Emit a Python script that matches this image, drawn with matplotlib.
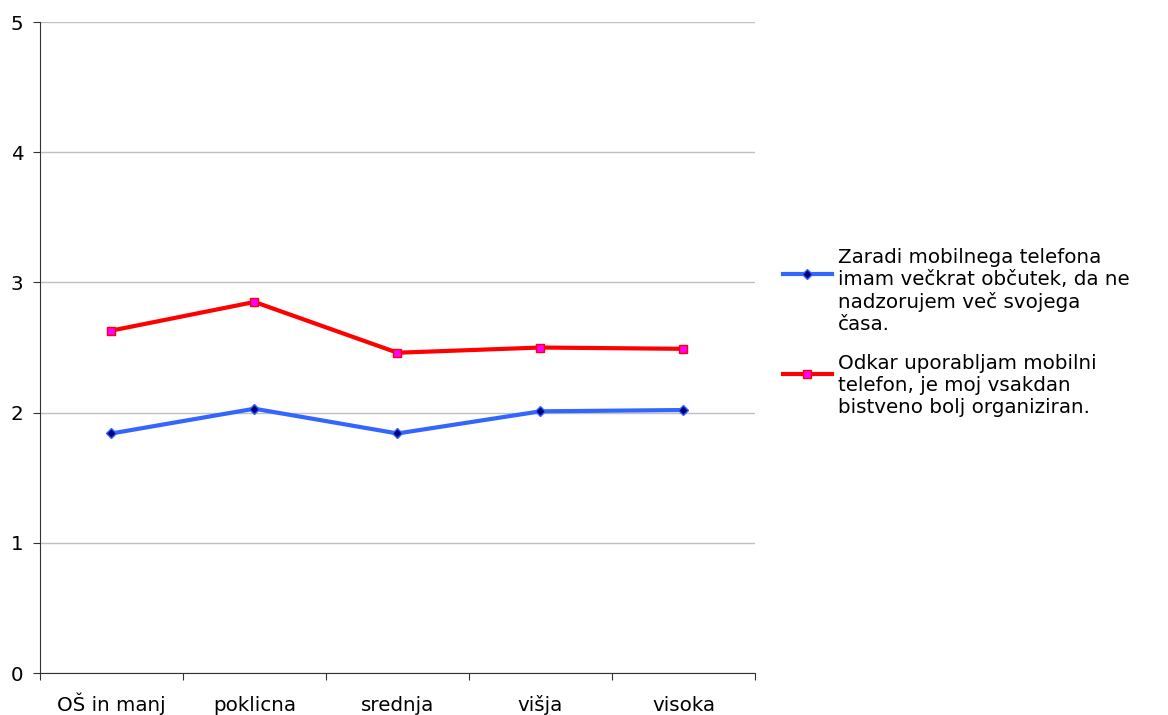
import matplotlib.pyplot as plt
from matplotlib.legend_handler import HandlerLine2D
import numpy as np

categories = ['OŠ in manj', 'poklicna', 'srednja', 'višja', 'visoka']
series_blue = [1.84, 2.03, 1.84, 2.01, 2.02]
series_red = [2.63, 2.85, 2.46, 2.50, 2.49]
label_blue = 'Zaradi mobilnega telefona\nimam večkrat občutek, da ne\nnadzorujem več svojega\nčasa.'
label_red = 'Odkar uporabljam mobilni\ntelefon, je moj vsakdan\nbistveno bolj organiziran.'

plt.rcParams['font.family'] = ['DejaVu Sans']
FS = 14.3


class FirstLineHandler(HandlerLine2D):
    # put the legend key next to the first text line, not the middle
    def __init__(self, n_lines, **kw):
        super().__init__(**kw)
        self.n_lines = n_lines

    def create_artists(self, legend, orig_handle, xdescent, ydescent,
                       width, height, fontsize, trans):
        shift = (self.n_lines - 1) / 2 * 1.165 * fontsize
        return super().create_artists(legend, orig_handle, xdescent,
                                      ydescent - shift, width, height,
                                      fontsize, trans)


fig = plt.figure(figsize=(11.68, 7.15), dpi=100)
ax = fig.add_axes([0.0342, 0.0587, 0.6122, 0.9105])

x = np.arange(len(categories))
l1, = ax.plot(x, series_blue, color='#3366ff', lw=3, marker='D', ms=5,
              mfc='#000080', mec='#3366ff', mew=1, label=label_blue, zorder=3)
l2, = ax.plot(x, series_red, color='#ff0000', lw=3, marker='s', ms=6,
              mfc='#ff00ff', mec='#ff0000', mew=1, label=label_red, zorder=3)

ax.set_xlim(-0.5, len(categories) - 0.5)
ax.set_ylim(0, 5)
ax.set_yticks(range(6))
ax.yaxis.grid(True, color='#c0c0c0', lw=1)
ax.set_axisbelow(True)

ax.set_xticks(np.arange(-0.5, len(categories)), labels=[])
ax.set_xticks(x, labels=categories, minor=True)
ax.tick_params(axis='x', which='minor', length=0, pad=27, labelsize=FS)
for t in ax.get_xticklabels(minor=True):
    t.set_verticalalignment('baseline')
ax.tick_params(axis='x', which='major', length=5, color='#333333')
ax.tick_params(axis='y', length=5, pad=7, labelsize=FS, color='#333333')

for s in ['top', 'right']:
    ax.spines[s].set_visible(False)
for s in ['left', 'bottom']:
    ax.spines[s].set_color('#333333')

ax.legend(handles=[l1, l2], loc='upper left', bbox_to_anchor=(1.039, 0.653),
          frameon=False, fontsize=FS, handlelength=2.45, handletextpad=0.3,
          labelspacing=1.0, borderaxespad=0, borderpad=0,
          handler_map={l1: FirstLineHandler(4), l2: FirstLineHandler(3)})

fig.savefig('out.png', dpi=100)
